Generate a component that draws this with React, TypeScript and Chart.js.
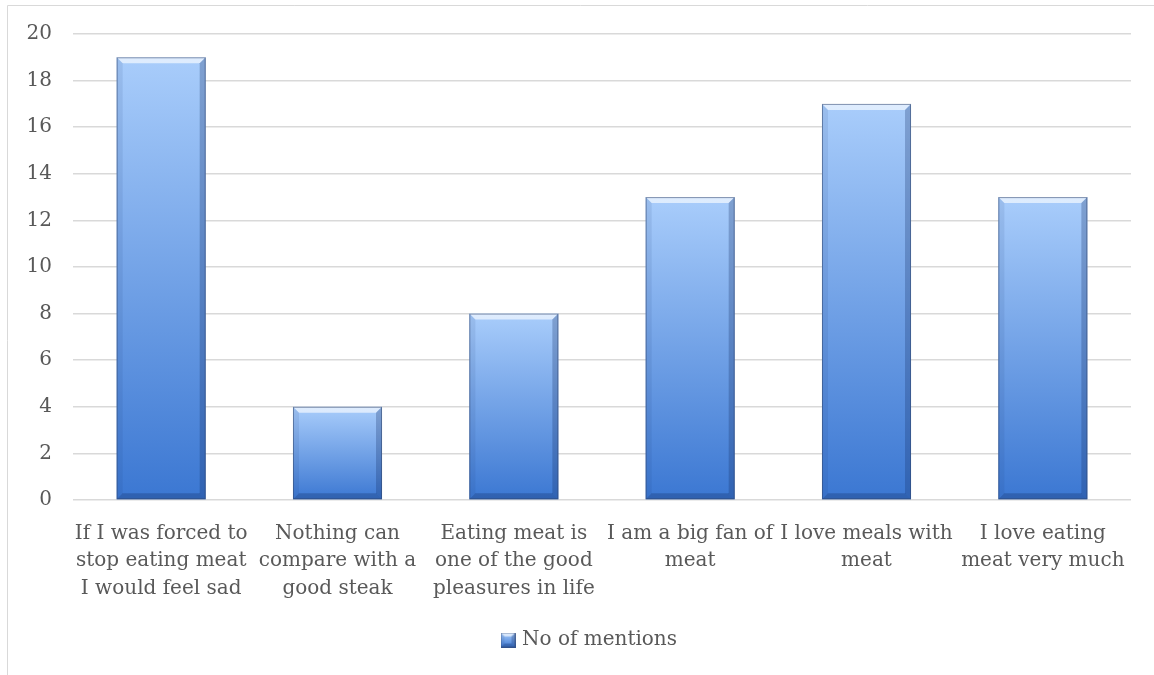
import React, { useEffect, useRef } from "react";
import { Chart, registerables } from "chart.js";

Chart.register(...registerables);

const categories: string[][] = [
  ["If I was forced to", "stop eating meat", "I would feel sad"],
  ["Nothing can", "compare with a", "good steak"],
  ["Eating meat is", "one of the good", "pleasures in life"],
  ["I am a big fan of", "meat"],
  ["I love meals with", "meat"],
  ["I love eating", "meat very much"],
];
const mentions: number[] = [19, 4, 8, 13, 17, 13];
const seriesName = "No of mentions";
const yTicks: number[] = [0, 2, 4, 6, 8, 10, 12, 14, 16, 18, 20];

const FONT = "'DejaVu Serif', 'Liberation Serif', serif";
const TEXT = "#595959";
const GRID = "#d9d9d9";
const TOP_COLOR = "#a9cdfb";
const BOTTOM_COLOR = "#3b77d2";

// Draws the bevelled edges (light top rim, shaded sides and foot) of a box.
function drawBevel(
  ctx: CanvasRenderingContext2D,
  left: number,
  top: number,
  right: number,
  bottom: number,
  b: number
) {
  const poly = (pts: number[][], fill: string) => {
    ctx.beginPath();
    ctx.moveTo(pts[0][0], pts[0][1]);
    for (let i = 1; i < pts.length; i++) ctx.lineTo(pts[i][0], pts[i][1]);
    ctx.closePath();
    ctx.fillStyle = fill;
    ctx.fill();
  };
  const h = bottom - top;
  const bb = Math.min(b, h / 2);
  poly(
    [
      [left, top],
      [right, top],
      [right - bb, top + bb],
      [left + bb, top + bb],
    ],
    "rgba(255,255,255,0.62)"
  );
  poly(
    [
      [left, top],
      [left + bb, top + bb],
      [left + bb, bottom - bb],
      [left, bottom],
    ],
    "rgba(30,60,120,0.10)"
  );
  poly(
    [
      [right, top],
      [right - bb, top + bb],
      [right - bb, bottom - bb],
      [right, bottom],
    ],
    "rgba(20,45,100,0.28)"
  );
  poly(
    [
      [left, bottom],
      [left + bb, bottom - bb],
      [right - bb, bottom - bb],
      [right, bottom],
    ],
    "rgba(20,45,100,0.30)"
  );
  ctx.strokeStyle = "rgba(50,70,110,0.55)";
  ctx.lineWidth = 1;
  ctx.strokeRect(left + 0.5, top + 0.5, right - left - 1, bottom - top - 1);
}

function makeLegendSwatch(): HTMLCanvasElement {
  const c = document.createElement("canvas");
  c.width = 15;
  c.height = 15;
  const ctx = c.getContext("2d")!;
  const g = ctx.createLinearGradient(0, 0, 0, 15);
  g.addColorStop(0, TOP_COLOR);
  g.addColorStop(1, BOTTOM_COLOR);
  ctx.fillStyle = g;
  ctx.fillRect(0, 0, 15, 15);
  drawBevel(ctx, 0, 0, 15, 15, 4);
  return c;
}

const LEGEND_SHIFT = 25;

const frameAndBevel = {
  id: "frameAndBevel",
  afterLayout(chart: any) {
    // centre the legend on the full frame width rather than the padded box
    const lg = chart.legend;
    if (lg) {
      lg.left += LEGEND_SHIFT;
      lg.right += LEGEND_SHIFT;
    }
  },
  beforeDraw(chart: any) {
    const ctx = chart.ctx as CanvasRenderingContext2D;
    ctx.save();
    ctx.strokeStyle = GRID;
    ctx.lineWidth = 1;
    ctx.beginPath();
    ctx.moveTo(7.5, chart.height);
    ctx.lineTo(7.5, 5.5);
    ctx.lineTo(chart.width, 5.5);
    ctx.stroke();
    ctx.restore();
  },
  afterDatasetsDraw(chart: any) {
    const ctx = chart.ctx as CanvasRenderingContext2D;
    const meta = chart.getDatasetMeta(0);
    ctx.save();
    meta.data.forEach((el: any) => {
      const { x, y, base, width } = el.getProps(["x", "y", "base", "width"], true);
      drawBevel(ctx, x - width / 2, y, x + width / 2, base, 6);
    });
    ctx.restore();
  },
};

export default function App() {
  const canvasRef = useRef<HTMLCanvasElement | null>(null);

  useEffect(() => {
    const canvas = canvasRef.current;
    if (!canvas) return;
    const swatch = makeLegendSwatch();

    const chart = new Chart(canvas, {
      type: "bar",
      data: {
        labels: categories,
        datasets: [
          {
            label: seriesName,
            data: mentions,
            categoryPercentage: 1,
            barPercentage: 0.505,
            borderWidth: 0,
            backgroundColor: (ctx: any) => {
              const c = ctx.chart;
              if (ctx.type !== "data" || !c.chartArea) return "#7aa7ea";
              const y = c.scales.y;
              const top = y.getPixelForValue(ctx.raw);
              const bottom = y.getPixelForValue(0);
              const g = c.ctx.createLinearGradient(0, top, 0, bottom);
              g.addColorStop(0, TOP_COLOR);
              g.addColorStop(1, BOTTOM_COLOR);
              return g;
            },
          },
        ],
      },
      options: {
        responsive: false,
        animation: false,
        devicePixelRatio: 1,
        layout: { padding: { left: 0, right: 23, top: 34, bottom: 15 } },
        plugins: {
          tooltip: { enabled: false },
          legend: {
            position: "bottom",
            labels: {
              usePointStyle: true,
              pointStyle: swatch as any,
              boxWidth: 8,
              boxHeight: 14,
              color: TEXT,
              font: { family: FONT, size: 20 },
              padding: 10,
            },
          },
        },
        scales: {
          x: {
            grid: { display: false },
            border: { display: false },
            ticks: {
              color: TEXT,
              font: { family: FONT, size: 20, lineHeight: 1.375 },
              padding: 12,
              maxRotation: 0,
              autoSkip: false,
            },
            afterFit: (s: any) => {
              s.height = 120;
            },
          },
          y: {
            min: yTicks[0],
            max: yTicks[yTicks.length - 1],
            afterBuildTicks: (s: any) => {
              s.ticks = yTicks.map((v) => ({ value: v }));
            },
            grid: { color: GRID, lineWidth: 1.5, drawTicks: false },
            border: { display: false },
            ticks: {
              color: TEXT,
              font: { family: FONT, size: 20 },
              padding: 21,
            },
            afterFit: (s: any) => {
              s.width = 73;
            },
          },
        },
      },
      plugins: [frameAndBevel],
    } as any);

    return () => chart.destroy();
  }, []);

  return (
    <div style={{ position: "fixed", left: 0, top: 0, width: 1154, height: 675, background: "#fff" }}>
      <canvas ref={canvasRef} width={1154} height={675} />
    </div>
  );
}
